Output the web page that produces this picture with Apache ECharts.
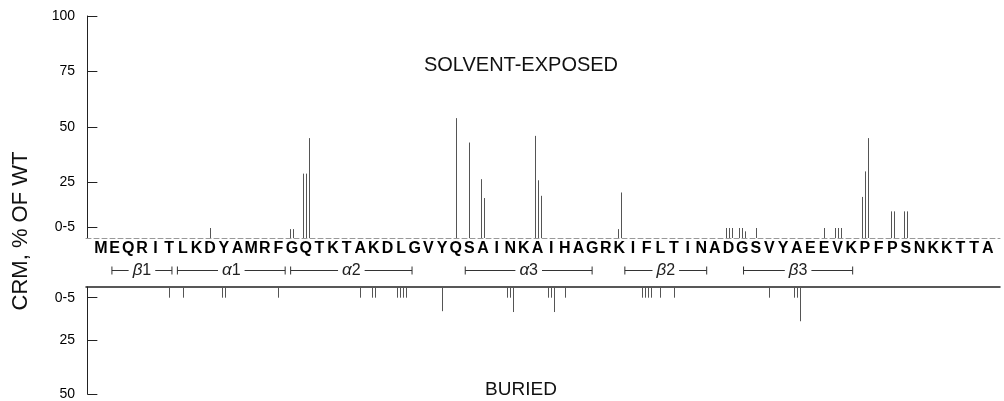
<!DOCTYPE html>
<html><head><meta charset="utf-8">
<script src="https://cdn.jsdelivr.net/npm/echarts@6/dist/echarts.min.js"></script>
<style>html,body{margin:0;padding:0;background:#fff}#c{width:1004px;height:401px}</style>
</head><body><div id="c"></div>
<script>
// Residue sequence (x axis)
const sequence = "MEQRITLKDYAMRFGQTKTAKDLGVYQSAINKAIHAGRKIFLTINADGSVYAEEVKPFPSNKKTTA".split('');
// Solvent-exposed substitutions: residue number and CRM values (% of WT) of each substitution
const exposedSites  = [9, 15, 16, 27, 28, 29, 33, 39, 47, 48, 49, 54, 55, 57, 59, 60];
const exposedValues = [[4.5],[4,4],[29,29,45],[54],[43],[26.5,18],[46,26,19],[4,20.5],[4.5,4.5,4.5],[4.5,4.5,3],[4.5],[4.5],[4.5,4.5,4.5],[18.5,30,45],[12,12],[12,12]];
// Buried substitutions
const buriedSites  = [6, 7, 10, 14, 20, 21, 23, 26, 31, 34, 35, 41, 42, 43, 50, 52];
const buriedValues = [[5],[5],[5,5],[5],[5],[5,5],[5,5,5,5],[11.3],[5,5,11.7],[5,5,11.7],[5],[5,5,5,5],[5],[5],[5],[5,5,16]];
// Tick labels
const exposedTicks = [5, 25, 50, 75, 100];
const buriedTicks = [5, 25, 50];
// Secondary structure elements (in residue units)
const ssGreek  = ['β','α','α','α','β','β'];
const ssNum    = ['1','1','2','3','2','3'];
const ssStart  = [1.8, 6.6, 14.9, 27.7, 39.4, 48.1];
const ssEnd    = [6.2, 14.5, 23.8, 37.0, 45.4, 56.1];

const FONT = '"Liberation Sans", Arial, Helvetica, sans-serif';
const tickFmt = v => (v === 5 ? '0-5' : String(v));

function flatten(sites, vals) {
  const out = [];
  sites.forEach((s, i) => {
    const n = vals[i].length;
    vals[i].forEach((v, k) => out.push([s, v, k, n]));
  });
  return out;
}
function renderStick(params, api) {
  const r = api.value(0), v = api.value(1), k = api.value(2), n = api.value(3);
  const p0 = api.coord([r, 0]), p1 = api.coord([r, v]);
  const x = Math.round(p0[0] + (k - (n - 1) / 2) * 3) + 0.5;
  return { type: 'line', shape: { x1: x, y1: p0[1], x2: x, y2: p1[1] },
           style: { stroke: '#555', lineWidth: 1 } };
}
function renderSS(params, api) {
  const i = params.dataIndex;
  const a = api.coord([api.value(0), 0.5]), b = api.coord([api.value(1), 0.5]);
  const y = Math.round(a[1]) + 0.5, mid = (a[0] + b[0]) / 2;
  const st = { stroke: '#333', lineWidth: 1 };
  return { type: 'group', children: [
    { type: 'line', shape: { x1: a[0], y1: y, x2: b[0], y2: y }, style: st },
    { type: 'line', shape: { x1: a[0], y1: y - 4, x2: a[0], y2: y + 4 }, style: st },
    { type: 'line', shape: { x1: b[0], y1: y - 4, x2: b[0], y2: y + 4 }, style: st },
    { type: 'text', style: { x: mid, y: y, text: '{g|' + ssGreek[i] + '}{n|' + ssNum[i] + '}',
        align: 'center', verticalAlign: 'middle', backgroundColor: '#fff', padding: [0, 4],
        rich: { g: { fontSize: 17, fontStyle: 'italic', fontFamily: FONT, fill: '#222' },
                n: { fontSize: 16, fontFamily: FONT, fill: '#222' } } } }
  ]};
}

const xRange = { min: -0.1, max: 66.9 };
const chart = echarts.init(document.getElementById('c'), null, { renderer: 'canvas' });
chart.setOption({
  animation: false,
  backgroundColor: '#fff',
  grid: [
    { left: 86, width: 914, top: 16, height: 222 },
    { left: 86, width: 914, top: 287, height: 111 },
    { left: 86, width: 914, top: 259, height: 22 }
  ],
  xAxis: [
    { gridIndex: 0, type: 'value', ...xRange,
      axisLine: { show: true, onZero: false, lineStyle: { color: '#999', width: 1, type: [5, 3] } },
      axisTick: { show: false }, splitLine: { show: false },
      axisLabel: { customValues: sequence.map((_, i) => i + 1), formatter: v => sequence[Math.round(v) - 1],
        fontWeight: 'bold', fontSize: 16, color: '#000', fontFamily: FONT, margin: 3 } },
    { gridIndex: 1, type: 'value', position: 'top', ...xRange,
      axisLine: { show: true, onZero: false, lineStyle: { color: '#222', width: 1.5 } },
      axisTick: { show: false }, splitLine: { show: false }, axisLabel: { show: false } },
    { gridIndex: 2, type: 'value', ...xRange, show: false }
  ],
  yAxis: [
    { gridIndex: 0, type: 'value', min: 0, max: 100,
      axisLine: { show: true, lineStyle: { color: '#222', width: 1 } },
      axisTick: { show: true, inside: true, length: 10, customValues: exposedTicks, lineStyle: { color: '#222' } },
      axisLabel: { customValues: exposedTicks, formatter: tickFmt, fontSize: 14, color: '#000', fontFamily: FONT, margin: 11 },
      splitLine: { show: false } },
    { gridIndex: 1, type: 'value', min: 0, max: 50, inverse: true,
      axisLine: { show: true, lineStyle: { color: '#222', width: 1 } },
      axisTick: { show: true, inside: true, length: 10, customValues: buriedTicks, lineStyle: { color: '#222' } },
      axisLabel: { customValues: buriedTicks, formatter: tickFmt, fontSize: 14, color: '#000', fontFamily: FONT, margin: 11 },
      splitLine: { show: false } },
    { gridIndex: 2, type: 'value', min: 0, max: 1, show: false }
  ],
  series: [
    { type: 'custom', name: 'Solvent-exposed', xAxisIndex: 0, yAxisIndex: 0,
      data: flatten(exposedSites, exposedValues), renderItem: renderStick, clip: false },
    { type: 'custom', name: 'Buried', xAxisIndex: 1, yAxisIndex: 1,
      data: flatten(buriedSites, buriedValues), renderItem: renderStick, clip: false },
    { type: 'custom', name: 'Secondary structure', xAxisIndex: 2, yAxisIndex: 2,
      data: ssStart.map((s, i) => [s, ssEnd[i]]), renderItem: renderSS, clip: false }
  ],
  graphic: [
    { type: 'text', x: 521, y: 65, style: { text: 'SOLVENT-EXPOSED', align: 'center', verticalAlign: 'middle',
        fontSize: 20, fontFamily: FONT, fill: '#111' } },
    { type: 'text', x: 521, y: 390, style: { text: 'BURIED', align: 'center', verticalAlign: 'middle',
        fontSize: 19, fontFamily: FONT, fill: '#111' } },
    { type: 'text', x: 21, y: 231, rotation: Math.PI / 2, style: { text: 'CRM, % OF WT', align: 'center',
        verticalAlign: 'middle', fontSize: 22, fontFamily: FONT, fill: '#111' } }
  ]
});
</script>
</body></html>
